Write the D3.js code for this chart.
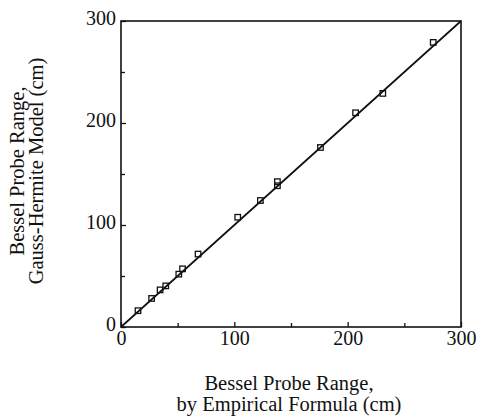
<!DOCTYPE html>
<html>
<head>
<meta charset="utf-8">
<script src="https://cdn.jsdelivr.net/npm/d3@7"></script>
<style>
  html, body { margin: 0; padding: 0; background: #fff; }
  svg { display: block; }
  text { font-family: "Liberation Serif", "Times New Roman", Times, serif; fill: #111; }
</style>
</head>
<body>
<svg id="chart" width="480" height="417"></svg>
<script>
// Data
const empirical = [15, 27, 34.5, 39.5, 51, 54.3, 68, 103, 123, 138, 138, 176, 207, 231, 275.5];
const gaussHermite = [16, 28, 36.4, 40.3, 51.8, 57, 71.5, 107.6, 124, 138.5, 142.5, 176, 210, 229, 279];
const majorTicks = [0, 100, 200, 300];
const minorTicks = [50, 150, 250];
const xTitle = ["Bessel Probe Range,", "by Empirical Formula (cm)"];
const yTitle = ["Bessel Probe Range,", "Gauss-Hermite Model (cm)"];
const lineDomain = [0, 300];

const serif = '"Liberation Serif", "Times New Roman", Times, serif';
const svg = d3.select("#chart");
const x = d3.scaleLinear().domain([0, 300]).range([121, 461]);
const y = d3.scaleLinear().domain([0, 300]).range([327, 21]);

// frame
svg.append("rect")
  .attr("x", x(0)).attr("y", y(300))
  .attr("width", x(300) - x(0)).attr("height", y(0) - y(300))
  .attr("fill", "none").attr("stroke", "#111").attr("stroke-width", 1.6);

// bottom axis (ticks inward)
const xAxis = d3.axisBottom(x).tickValues(majorTicks).tickSize(-5).tickPadding(0).tickFormat(d3.format("d"));
const gx = svg.append("g").attr("transform", `translate(0,${y(0)})`).call(xAxis);
gx.attr("font-family", serif);
gx.select(".domain").remove();
gx.selectAll(".tick line").attr("stroke", "#111").attr("stroke-width", 1.3);
gx.selectAll(".tick text").attr("y", 18).attr("dy", 0).attr("font-size", 20)
  .style("font-family", serif).attr("fill", "#111");
const gxm = svg.append("g").attr("transform", `translate(0,${y(0)})`)
  .call(d3.axisBottom(x).tickValues(minorTicks).tickSize(-4).tickFormat(""));
gxm.select(".domain").remove();
gxm.selectAll(".tick line").attr("stroke", "#111").attr("stroke-width", 1.3);

// left axis (ticks inward)
const yAxis = d3.axisLeft(y).tickValues(majorTicks).tickSize(-5).tickPadding(0).tickFormat(d3.format("d"));
const gy = svg.append("g").attr("transform", `translate(${x(0)},0)`).call(yAxis);
gy.attr("font-family", serif);
gy.select(".domain").remove();
gy.selectAll(".tick line").attr("stroke", "#111").attr("stroke-width", 1.3);
gy.selectAll(".tick text").attr("x", -5).attr("dy", 3).attr("font-size", 20)
  .attr("text-anchor", "end").style("font-family", serif).attr("fill", "#111");
const gym = svg.append("g").attr("transform", `translate(${x(0)},0)`)
  .call(d3.axisLeft(y).tickValues(minorTicks).tickSize(-4).tickFormat(""));
gym.select(".domain").remove();
gym.selectAll(".tick line").attr("stroke", "#111").attr("stroke-width", 1.3);

// y = x line
svg.append("line")
  .attr("x1", x(lineDomain[0])).attr("y1", y(lineDomain[0]))
  .attr("x2", x(lineDomain[1])).attr("y2", y(lineDomain[1]))
  .attr("stroke", "#111").attr("stroke-width", 1.7);

// points
const pts = empirical.map((e, i) => ({ e, g: gaussHermite[i] }));
const s = 5.5;
svg.append("g").selectAll("rect").data(pts).join("rect")
  .attr("x", d => x(d.e) - s / 2).attr("y", d => y(d.g) - s / 2)
  .attr("width", s).attr("height", s)
  .attr("fill", "none").attr("stroke", "#111").attr("stroke-width", 1.3);

// axis titles
const cx = (x(0) + x(300)) / 2;
svg.append("text").attr("x", cx - 2).attr("y", 390).attr("text-anchor", "middle")
  .attr("font-size", 20.5).text(xTitle[0]);
svg.append("text").attr("x", cx - 2).attr("y", 411).attr("text-anchor", "middle")
  .attr("font-size", 20.5).text(xTitle[1]);

const cy = 171;
svg.append("text").attr("transform", `translate(24,${cy}) rotate(-90)`).attr("text-anchor", "middle")
  .attr("font-size", 20.5).text(yTitle[0]);
svg.append("text").attr("transform", `translate(43,${cy}) rotate(-90)`).attr("text-anchor", "middle")
  .attr("font-size", 20.5).text(yTitle[1]);
</script>
</body>
</html>
